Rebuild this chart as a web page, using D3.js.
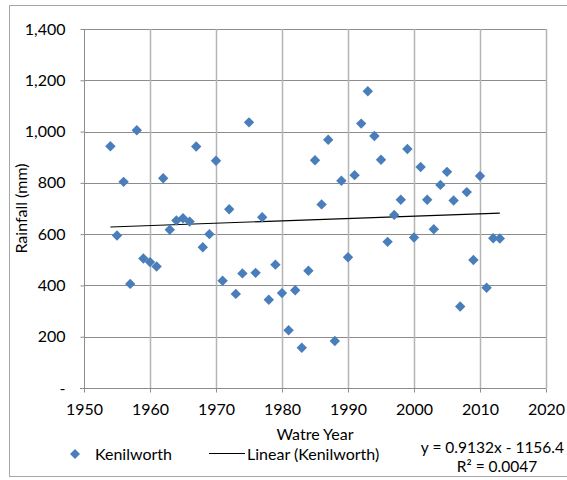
<!DOCTYPE html>
<html>
<head>
<meta charset="utf-8">
<script src="https://cdn.jsdelivr.net/npm/d3@7"></script>
<style>
  html, body { margin: 0; padding: 0; background: #fff; }
  svg { display: block; font-family: Lato, "Open Sans", sans-serif; }
</style>
</head>
<body>
<svg id="chart" width="567" height="480"></svg>
<script>
const years = [1954,1955,1956,1957,1958,1959,1960,1961,1962,1963,1964,1965,1966,1967,1968,1969,
  1970,1971,1972,1973,1974,1975,1976,1977,1978,1979,1980,1981,1982,1983,1984,1985,1986,1987,1988,1989,
  1990,1991,1992,1993,1994,1995,1996,1997,1998,1999,2000,2001,2002,2003,2004,2005,2006,2007,2008,2009,
  2010,2011,2012,2013];
const rainfall = [943,595,804,406,1005,505,491,474,818,617,653,662,649,942,549,600,
  886,418,697,367,447,1036,449,666,344,481,370,225,381,157,457,888,716,968,183,808,
  510,830,1031,1157,983,890,570,675,734,932,587,862,734,619,792,843,731,318,764,499,
  827,391,584,583];
const xTicks = [1950,1960,1970,1980,1990,2000,2010,2020];
const yTicks = [0,200,400,600,800,1000,1200,1400];
const trendSlope = 0.9132;
const trendIntercept = -1156.4;
const seriesName = "Kenilworth";
const trendName = "Linear (Kenilworth)";
const xTitle = "Watre Year";
const yTitle = "Rainfall (mm)";
const eqText = "y = 0.9132x - 1156.4";
const r2Text = "R² = 0.0047";

const svg = d3.select("#chart");
const L = 84, R = 546, T = 29, B = 388;
const FS = 16;
const x = d3.scaleLinear().domain([1950, 2020]).range([L, R]);
const y = d3.scaleLinear().domain([0, 1400]).range([B, T]);
const blue = "#4A7EBB";

// outer border
svg.append("rect").attr("x", 9.5).attr("y", 5.5).attr("width", 570).attr("height", 471)
  .attr("fill", "none").attr("stroke", "#a6a6a6").attr("stroke-width", 1);

// horizontal gridlines
svg.append("g").selectAll("line").data(yTicks.filter(d => d > 0)).join("line")
  .attr("x1", L).attr("x2", R).attr("y1", d => Math.round(y(d)) + 0.5).attr("y2", d => Math.round(y(d)) + 0.5)
  .attr("stroke", "#8c8c8c").attr("stroke-width", 1);
// vertical gridlines
svg.append("g").selectAll("line").data(xTicks.filter(d => d > 1950)).join("line")
  .attr("x1", d => Math.round(x(d)) + 0.5).attr("x2", d => Math.round(x(d)) + 0.5).attr("y1", T).attr("y2", B)
  .attr("stroke", "#b5b5b5").attr("stroke-width", 1.5);

// y axis
const yAxis = d3.axisLeft(y).tickValues(yTicks).tickSize(4).tickPadding(15)
  .tickFormat(d => d === 0 ? "-" : d3.format(",")(d));
const gy = svg.append("g").attr("transform", `translate(${L + 0.5},0)`).call(yAxis);
gy.select(".domain").attr("stroke", "#8c8c8c").attr("d", `M0,${T}V${B}`);
gy.selectAll(".tick line").attr("stroke", "#8c8c8c");
gy.selectAll(".tick text").attr("font-size", FS).attr("fill", "#000").attr("font-family", "Lato, sans-serif");

// x axis
const xAxis = d3.axisBottom(x).tickValues(xTicks).tickSize(4).tickPadding(11).tickFormat(d3.format("d"));
const gx = svg.append("g").attr("transform", `translate(0,${B + 0.5})`).call(xAxis);
gx.select(".domain").attr("stroke", "#8c8c8c").attr("d", `M${L - 4},0H${R}`);
gx.selectAll(".tick line").attr("stroke", "#8c8c8c");
gx.selectAll(".tick text").attr("font-size", FS).attr("fill", "#000").attr("font-family", "Lato, sans-serif");

// trendline
const x0 = d3.min(years), x1 = d3.max(years);
svg.append("line")
  .attr("x1", x(x0)).attr("y1", y(trendSlope * x0 + trendIntercept))
  .attr("x2", x(x1)).attr("y2", y(trendSlope * x1 + trendIntercept))
  .attr("stroke", "#000").attr("stroke-width", 1.1);

// points
const dpath = s => `M0,${-s}L${s},0L0,${s}L${-s},0Z`;
svg.append("g").selectAll("path").data(years.map((yr, i) => [yr, rainfall[i]])).join("path")
  .attr("transform", d => `translate(${x(d[0])},${y(d[1])})`)
  .attr("d", dpath(5.2)).attr("fill", blue);

// axis titles
svg.append("text").attr("transform", `translate(27,${(T + B) / 2}) rotate(-90)`)
  .attr("text-anchor", "middle").attr("font-size", FS).text(yTitle);
svg.append("text").attr("x", (L + R) / 2).attr("y", 440)
  .attr("text-anchor", "middle").attr("font-size", FS).text(xTitle);

// legend
svg.append("path").attr("transform", "translate(75,454)").attr("d", dpath(5)).attr("fill", blue);
svg.append("text").attr("x", 95).attr("y", 459.5).attr("font-size", FS).text(seriesName);
svg.append("line").attr("x1", 209).attr("x2", 245).attr("y1", 453.5).attr("y2", 453.5)
  .attr("stroke", "#000").attr("stroke-width", 1);
svg.append("text").attr("x", 247).attr("y", 459.5).attr("font-size", FS).text(trendName);

// equation
svg.append("text").attr("x", 564).attr("y", 453).attr("text-anchor", "end").attr("font-size", 15.5).text(eqText);
svg.append("text").attr("x", 497).attr("y", 472).attr("text-anchor", "middle").attr("font-size", 15.5).text(r2Text);
</script>
</body>
</html>
